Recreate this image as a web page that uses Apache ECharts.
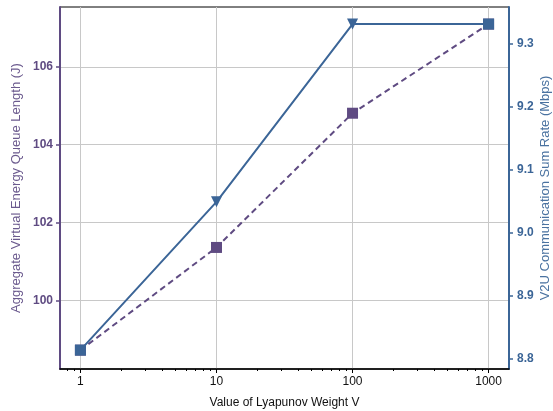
<!DOCTYPE html>
<html><head><meta charset="utf-8">
<script src="https://cdn.jsdelivr.net/npm/echarts@6/dist/echarts.min.js"></script>
<style>html,body{margin:0;padding:0;background:#fff}#c{width:553px;height:411px}</style>
</head><body><div id="c"></div>
<script>
const xValues = [1, 10, 100, 1000];
const queueLength = [98.72, 101.36, 104.81, 107.10];
const sumRate = [8.814, 9.049, 9.331, 9.331];
const blueSymbols = ['rect', 'triangle', 'triangle', 'rect'];
const xTicks = [1, 10, 100, 1000];
const xMinorTicks = [0.8, 0.9, 2, 3, 4, 5, 6, 7, 8, 9, 20, 30, 40, 50, 60, 70, 80, 90, 200, 300, 400, 500, 600, 700, 800, 900];
const leftTicks = [100, 102, 104, 106];
const rightTicks = [8.8, 8.9, 9.0, 9.1, 9.2, 9.3];

const PURPLE = '#5f4b82';
const BLUE = '#3b6597';
const FONT = 'Liberation Sans, Arial, sans-serif';

const chart = echarts.init(document.getElementById('c'), null, {renderer: 'canvas'});
const xMin = 0.7079, xMax = 1412.5;
chart.setOption({
  animation: false,
  grid: {left: 60, right: 44, top: 7, bottom: 42, containLabel: false, outerBoundsMode: 'none',
    show: true, borderColor: '#000', borderWidth: 1, backgroundColor: 'transparent'},
  xAxis: [{
    type: 'log', logBase: 10, min: xMin, max: xMax,
    name: 'Value of Lyapunov Weight V', nameLocation: 'middle', nameGap: 28, nameMoveOverlap: false,
    nameTextStyle: {fontFamily: FONT, fontSize: 12, color: '#111'},
    axisLine: {show: true, lineStyle: {color: '#000', width: 1.5}},
    axisTick: {show: true, length: 4, customValues: xTicks, lineStyle: {color: '#000', width: 1}},
    axisLabel: {customValues: xTicks, fontFamily: FONT, fontSize: 12, color: '#111', margin: 7,
      formatter: v => String(v)},
    splitLine: {show: true, lineStyle: {color: '#c8c8c8', width: 1}},
    minorTick: {show: false}
  }, {
    type: 'log', logBase: 10, min: xMin, max: xMax, position: 'bottom',
    axisLine: {show: false},
    axisTick: {show: true, length: 2, customValues: xMinorTicks, lineStyle: {color: '#000', width: 1}},
    axisLabel: {show: false},
    splitLine: {show: false}
  }],
  yAxis: [{
    type: 'value', min: 98.236, max: 107.54, position: 'left',
    name: 'Aggregate Virtual Energy Queue Length (J)', nameLocation: 'middle', nameGap: 37, nameMoveOverlap: false,
    nameTextStyle: {fontFamily: FONT, fontSize: 13, color: '#6b5a8e'},
    axisLine: {show: true, lineStyle: {color: PURPLE, width: 2}},
    axisTick: {show: true, length: 4, customValues: leftTicks, lineStyle: {color: PURPLE, width: 1.5}},
    axisLabel: {customValues: leftTicks, fontFamily: FONT, fontSize: 12, fontWeight: 'bold', color: PURPLE, margin: 7},
    splitLine: {show: true, lineStyle: {color: '#c8c8c8', width: 1}}
  }, {
    type: 'value', min: 8.784, max: 9.358, position: 'right',
    name: 'V2U Communication Sum Rate (Mbps)', nameLocation: 'middle', nameGap: 30, nameMoveOverlap: false,
    nameTextStyle: {fontFamily: FONT, fontSize: 13, color: '#4a72a0'},
    axisLine: {show: true, lineStyle: {color: BLUE, width: 2}},
    axisTick: {show: true, length: 4, customValues: rightTicks, lineStyle: {color: BLUE, width: 1.5}},
    axisLabel: {customValues: rightTicks, fontFamily: FONT, fontSize: 12, fontWeight: 'bold', color: BLUE, margin: 8,
      formatter: v => v.toFixed(1)},
    splitLine: {show: false}
  }],
  series: [{
    type: 'line', xAxisIndex: 0, yAxisIndex: 0,
    data: xValues.map((x, i) => [x, queueLength[i]]),
    symbol: 'rect', symbolSize: 11,
    lineStyle: {color: PURPLE, width: 2, type: [6, 4]},
    itemStyle: {color: PURPLE},
    z: 2
  }, {
    type: 'line', xAxisIndex: 0, yAxisIndex: 1,
    data: xValues.map((x, i) => ({value: [x, sumRate[i]], symbol: blueSymbols[i], symbolRotate: blueSymbols[i] === 'triangle' ? 180 : 0})),
    symbolSize: 11,
    lineStyle: {color: BLUE, width: 2},
    itemStyle: {color: BLUE},
    z: 3
  }]
});
</script></body></html>
